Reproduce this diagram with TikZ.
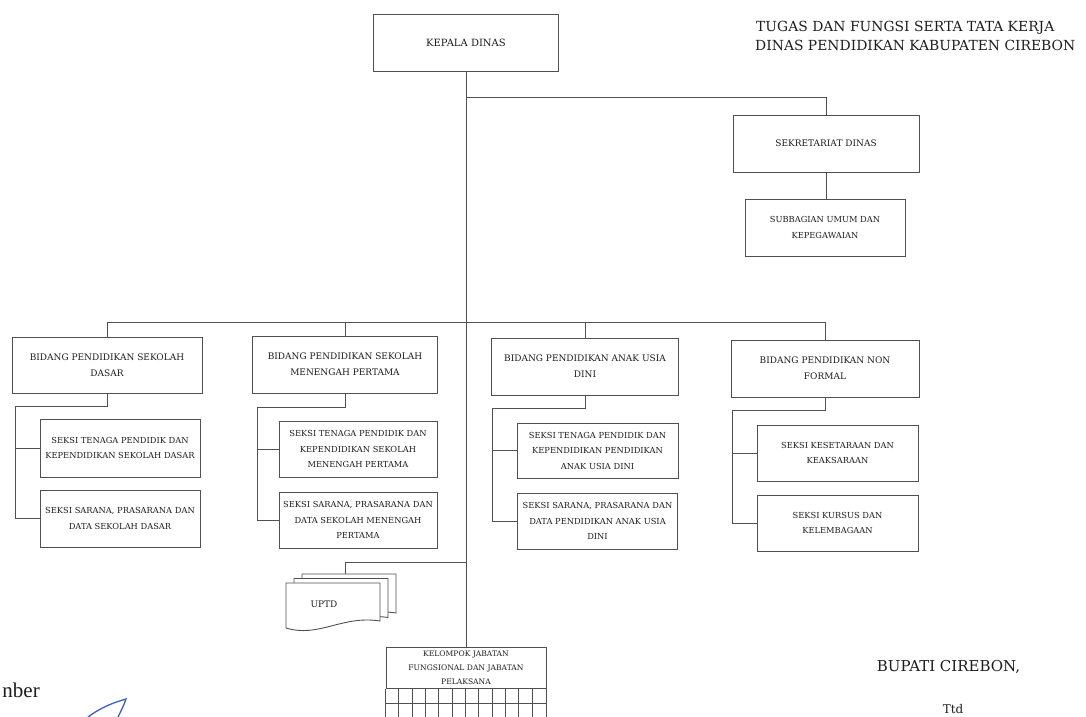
\documentclass[tikz,border=0pt]{standalone}
\usepackage{fontspec}
\setmainfont{DejaVu Serif}
\newfontfamily\timesfont{Liberation Serif}
\usetikzlibrary{calc}
\definecolor{linec}{RGB}{80,80,80}
\definecolor{textc}{RGB}{30,30,30}
\definecolor{sigblue}{RGB}{60,95,185}
\tikzset{
  orgbox/.style={draw=linec, line width=0.9pt, align=center, inner sep=2pt, text=textc,
    font=\fontsize{9}{16}\selectfont},
  seksibox/.style={orgbox, font=\fontsize{8.3}{15.5}\selectfont},
  conn/.style={draw=linec, line width=0.9pt},
  plain/.style={text=textc, inner sep=0pt}
}
\begin{document}
\begin{tikzpicture}[x=1pt,y=-1pt]
\clip (0,0) rectangle (1086,716);
\fill[white] (0,0) rectangle (1086,716);

% title
\node[plain, anchor=base west, font=\fontsize{13.9}{19}\selectfont] (title1) at (756,31.5) {TUGAS DAN FUNGSI SERTA TATA KERJA};
\node[plain, anchor=base west, font=\fontsize{13.9}{19}\selectfont] (title2) at (755,50.5) {DINAS PENDIDIKAN KABUPATEN CIREBON};

% top
\node[orgbox, minimum width=185, minimum height=57, font=\fontsize{10}{16}\selectfont] (kd) at (466,42.5) {KEPALA DINAS};
\node[orgbox, minimum width=186, minimum height=57] (sek) at (826,143.5) {SEKRETARIAT DINAS};
\node[seksibox, minimum width=160, minimum height=57] (sub) at (825,227.5) {SUBBAGIAN UMUM DAN\\KEPEGAWAIAN};

% bidang
\node[orgbox, minimum width=190, minimum height=56] (bd1) at (107,365) {BIDANG PENDIDIKAN SEKOLAH\\DASAR};
\node[orgbox, minimum width=185, minimum height=57] (bd2) at (345,364.5) {BIDANG PENDIDIKAN SEKOLAH\\MENENGAH PERTAMA};
\node[orgbox, minimum width=187, minimum height=57] (bd3) at (585,366.5) {BIDANG PENDIDIKAN ANAK USIA\\DINI};
\node[orgbox, minimum width=188, minimum height=57] (bd4) at (825,368.5) {BIDANG PENDIDIKAN NON\\FORMAL};

% seksi
\node[seksibox, minimum width=160, minimum height=58] (s1a) at (120,448) {SEKSI TENAGA PENDIDIK DAN\\KEPENDIDIKAN SEKOLAH DASAR};
\node[seksibox, minimum width=160, minimum height=57] (s1b) at (120,518.5) {SEKSI SARANA, PRASARANA DAN\\DATA SEKOLAH DASAR};
\node[seksibox, minimum width=158, minimum height=56] (s2a) at (358,449) {SEKSI TENAGA PENDIDIK DAN\\KEPENDIDIKAN SEKOLAH\\MENENGAH PERTAMA};
\node[seksibox, minimum width=158, minimum height=56] (s2b) at (358,520) {SEKSI SARANA, PRASARANA DAN\\DATA SEKOLAH MENENGAH\\PERTAMA};
\node[seksibox, minimum width=161, minimum height=55] (s3a) at (597.5,450.5) {SEKSI TENAGA PENDIDIK DAN\\KEPENDIDIKAN PENDIDIKAN\\ANAK USIA DINI};
\node[seksibox, minimum width=160, minimum height=56] (s3b) at (597.5,521) {SEKSI SARANA, PRASARANA DAN\\DATA PENDIDIKAN ANAK USIA\\DINI};
\node[seksibox, minimum width=161, minimum height=56] (s4a) at (837.5,453) {SEKSI KESETARAAN DAN\\KEAKSARAAN};
\node[seksibox, minimum width=161, minimum height=56] (s4b) at (837.5,523) {SEKSI KURSUS DAN\\KELEMBAGAAN};

% kelompok jabatan
\node[orgbox, anchor=north, minimum width=160, minimum height=41, font=\fontsize{7.6}{14}\selectfont] (kel) at (466,647) {KELOMPOK JABATAN\\FUNGSIONAL DAN JABATAN\\PELAKSANA};
\draw[conn] (kel.south west) -- ++(0,45);
\draw[conn] (kel.south east) -- ++(0,45);
\draw[conn] ($(kel.south west)+(0,15)$) -- ($(kel.south east)+(0,15)$);
\draw[conn] ($(kel.south west)+(0,29)$) -- ($(kel.south east)+(0,29)$);
\foreach \i in {1,...,11} {
  \draw[conn, line width=0.8pt] ($(kel.south west)+(\i*13.333,0)$) -- ++(0,45);
}

% UPTD multi-document
\filldraw[draw=linec, fill=white, line width=0.9pt] (302,574) -- (396,574) -- (396,613) .. controls (358,607) and (335,630) .. (302,619) -- cycle;
\filldraw[draw=linec, fill=white, line width=0.9pt] (294,578.5) -- (388,578.5) -- (388,617.5) .. controls (350,611.5) and (327,634.5) .. (294,623.5) -- cycle;
\filldraw[draw=linec, fill=white, line width=0.9pt] (286,583) -- (380,583) -- (380,621) .. controls (342,615) and (319,638) .. (286,628) -- cycle;
\node[plain, font=\fontsize{9}{11}\selectfont] (uptd) at (324,604) {UPTD};
\coordinate (ut) at (345,574);

% connectors
\coordinate (j1) at (466,97);
\coordinate (busy) at (0,322);
\coordinate (j2) at (466,562);
\draw[conn] (kd.south) -- (kd.south |- kel.north);
\draw[conn] (j1) -| (sek.north);
\draw[conn] (sek.south) -- (sek.south |- sub.north);
\draw[conn] (bd1.north) -- (bd1.north |- busy) -- (bd4.north |- busy) -- (bd4.north);
\draw[conn] (bd2.north) -- (bd2.north |- busy);
\draw[conn] (bd3.north) -- (bd3.north |- busy);
\draw[conn] (j2) -| (ut);

\coordinate (c1) at (15,406);
\draw[conn] (bd1.south) |- (c1) -- (c1 |- s1b.west) -- (s1b.west);
\draw[conn] (c1 |- s1a.west) -- (s1a.west);
\coordinate (c2) at (257,407);
\draw[conn] (bd2.south) |- (c2) -- (c2 |- s2b.west) -- (s2b.west);
\draw[conn] (c2 |- s2a.west) -- (s2a.west);
\coordinate (c3) at (492,408);
\draw[conn] (bd3.south) |- (c3) -- (c3 |- s3b.west) -- (s3b.west);
\draw[conn] (c3 |- s3a.west) -- (s3a.west);
\coordinate (c4) at (732,410);
\draw[conn] (bd4.south) |- (c4) -- (c4 |- s4b.west) -- (s4b.west);
\draw[conn] (c4 |- s4a.west) -- (s4a.west);

% bottom texts
\node[plain, font=\fontsize{15}{16}\selectfont] (bupati) at (948.5,667) {BUPATI CIREBON,};
\node[plain, anchor=base, font=\fontsize{12}{14}\selectfont] (ttd) at (953,713) {Ttd};
\node[plain, anchor=base east, font=\timesfont\fontsize{21}{22}\selectfont] (nber) at (40,697) {nber};
\draw[sigblue, line width=1.3pt, line cap=round] (88,717) .. controls (100,708) and (112,703) .. (126,699) .. controls (124,705) and (121,711) .. (118,717);
\end{tikzpicture}
\end{document}
